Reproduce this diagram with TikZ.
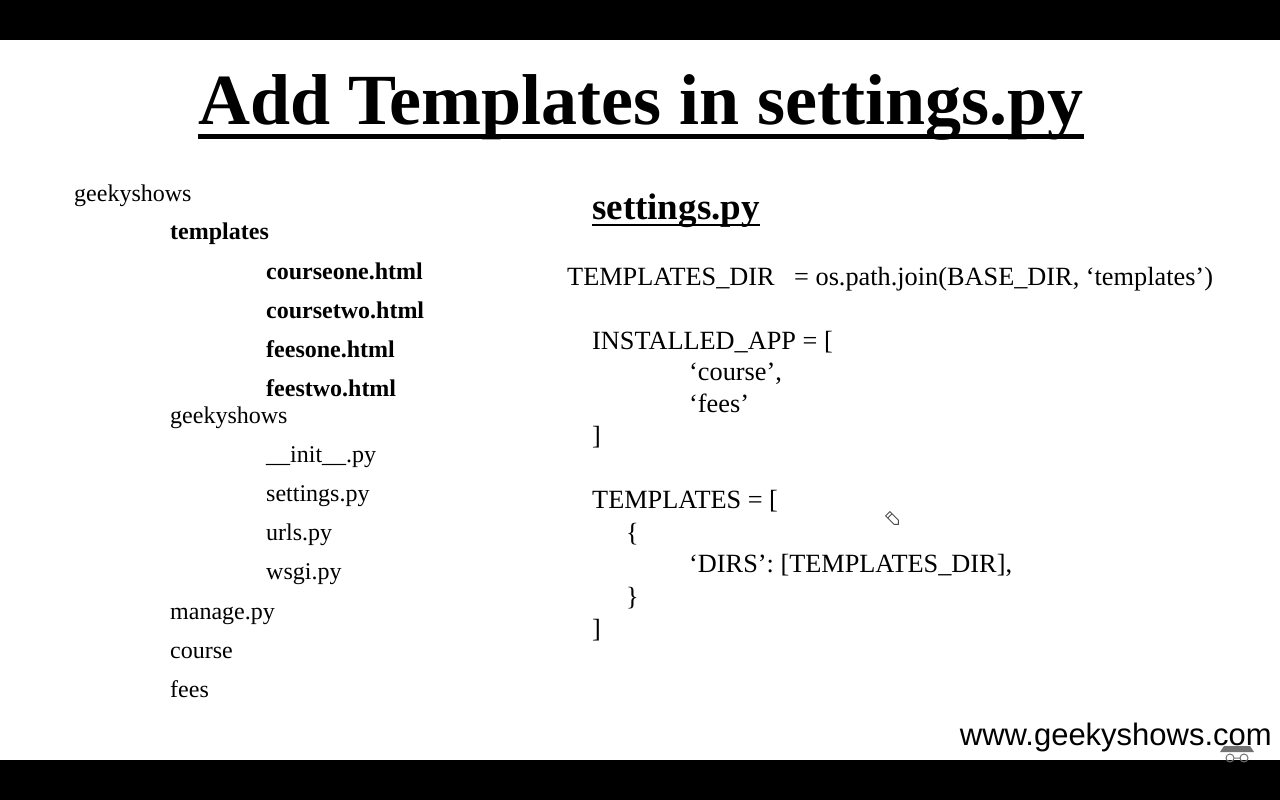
\documentclass[tikz,border=0pt]{standalone}
\usepackage{fontspec}
\setmainfont{Liberation Serif}
\newfontfamily\arialfont{Liberation Sans}
\begin{document}
\begin{tikzpicture}[x=1pt,y=-1pt,
  txt/.style={inner sep=0pt,anchor=base west,font=\fontsize{24}{28}\selectfont},
  btxt/.style={txt,font=\fontsize{24}{28}\selectfont\bfseries},
  code/.style={inner sep=0pt,anchor=base west,font=\fontsize{26.3}{30}\selectfont},
  bar/.style={fill=black,draw=none}]
\useasboundingbox (0,0) rectangle (1280,800);
\fill[white] (0,0) rectangle (1280,800);
% letterbox bars
\fill[bar] (0,0) rectangle (1280,40);
\fill[bar] (0,760) rectangle (1280,800);

% title
\node[inner sep=0pt,anchor=base west,font=\fontsize{72}{80}\selectfont\bfseries] (title) at (198,124) {Add Templates in settings.py};
\draw[line width=5pt] ([yshift=-12pt]title.base west) -- ([yshift=-12pt]title.base east);

% project tree
\node[txt]  (root)  at (74,201)  {geekyshows};
\node[btxt] (tpl)   at (170,239) {templates};
\node[btxt] (c1)    at (266,279) {courseone.html};
\node[btxt] (c2)    at (266,318) {coursetwo.html};
\node[btxt] (f1)    at (266,357) {feesone.html};
\node[btxt] (f2)    at (266,396) {feestwo.html};
\node[txt]  (pkg)   at (170,423) {geekyshows};
\node[txt]  (init)  at (266,462) {\_\_init\_\_.py};
\node[txt]  (sett)  at (266,501) {settings.py};
\node[txt]  (urls)  at (266,540) {urls.py};
\node[txt]  (wsgi)  at (266,579) {wsgi.py};
\node[txt]  (mng)   at (170,619) {manage.py};
\node[txt]  (crs)   at (170,658) {course};
\node[txt]  (fees)  at (170,697) {fees};

% settings.py heading
\node[inner sep=0pt,anchor=base west,font=\fontsize{37}{40}\selectfont\bfseries] (shead) at (592,219) {settings.py};
\draw[line width=2.6pt] ([yshift=-6pt]shead.base west) -- ([yshift=-6pt]shead.base east);

% code lines
\node[code] (tdir)  at (567,285) {TEMPLATES\_DIR};
\node[code] (tjoin) at (794,285) {= os.path.join(BASE\_DIR, ‘templates’)};
\node[code] (inst)  at (592,349) {INSTALLED\_APP = [};
\node[code] (acrs)  at (689,380) {‘course’,};
\node[code] (afees) at (689,412) {‘fees’};
\node[code] (iend)  at (592,444) {]};
\node[code] (tmps)  at (592,508) {TEMPLATES = [};
\node[code] (ob)    at (626,541) {\{};
\node[code] (dirs)  at (689,572) {‘DIRS’: [TEMPLATES\_DIR],};
\node[code] (cb)    at (626,605) {\}};
\node[code] (tend)  at (592,637) {]};

% pencil cursor
\begin{scope}[shift={(892,518)},rotate=-45,line width=0.8pt,draw=black!70]
  \draw (-6,-3) -- (6,-3) -- (9,0) -- (6,3) -- (-6,3) -- cycle;
  \draw (-3,-3) -- (-3,3);
\end{scope}

% footer
\node[inner sep=0pt,anchor=base east,font=\arialfont\fontsize{31}{34}\selectfont] (url) at (1272,745) {www.geekyshows.com};
% small logo above the footer bar
\fill[black!55] (1224,746) -- (1250,746) -- (1254,752) -- (1220,752) -- cycle;
\draw[black!55,line width=1pt] (1230,758) circle (4) (1244,758) circle (4) (1234,758) -- (1240,758);
\end{tikzpicture}
\end{document}
